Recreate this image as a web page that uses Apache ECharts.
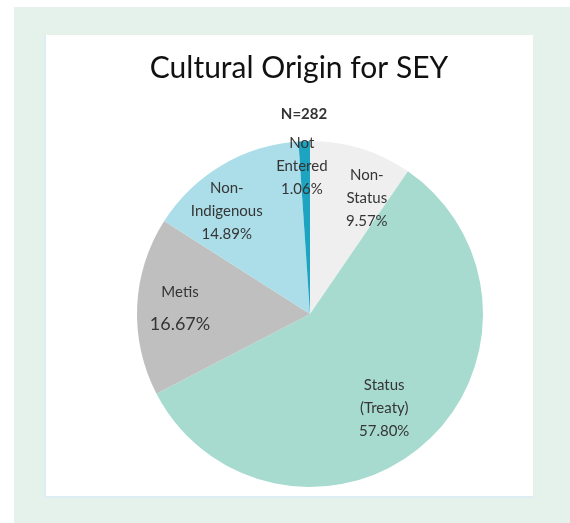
<!DOCTYPE html>
<html lang="en">
<head>
    <meta charset="UTF-8">
    <title>Cultural Origin for SEY</title>
    <script src="https://cdn.jsdelivr.net/npm/echarts@6/dist/echarts.min.js"></script>
    <style>
        html, body { margin: 0; padding: 0; background: #fff; }
        .outer { position: absolute; left: 14px; top: 7px; width: 556px; height: 516px; background: #e5f2ec; }
        .panel { position: absolute; left: 44px; top: 35px; width: 489px; height: 463px; background: #fff;
                 border-left: 2px solid #dcedf3; border-bottom: 2px solid #dcedf3; box-sizing: border-box; }
        #chart { position: absolute; left: 0; top: 0; width: 570px; height: 523px; }
    </style>
</head>
<body>
    <div class="outer"></div>
    <div class="panel"></div>
    <div id="chart"></div>
    <script>
        // data (N = 282)
        var categories = ['Non-Status', 'Status (Treaty)', 'Metis', 'Non-Indigenous', 'Not Entered'];
        var labelNames = ['Non-\nStatus', 'Status\n(Treaty)', 'Metis', 'Non-\nIndigenous', 'Not\nEntered'];
        var counts = [27, 163, 47, 42, 3];
        var colors = ['#efefef', '#a8dbd0', '#bfbfbf', '#acdee9', '#1ca4c0'];

        var total = counts.reduce(function(a, b) { return a + b; }, 0);
        var pieR = 173;
        var center = [310, 314];
        // small nudges so the labels sit where Excel put them
        var nudge = [[20, 3], [-8, 1], [-6, 0], [-20, 4], [-4, -24]];

        var pieData = categories.map(function(name, i) {
            return { name: name, value: counts[i], itemStyle: { color: colors[i] } };
        });
        var labelData = categories.map(function(name, i) {
            var pct = (counts[i] / total * 100).toFixed(2) + '%';
            var text = i == 2 ? '{m|' + labelNames[i] + '}\n{mp|' + pct + '}' : labelNames[i] + '\n' + pct;
            return { name: name, value: counts[i], label: { formatter: text } };
        });

        var myChart = echarts.init(document.getElementById('chart'));
        var option = {
            animation: false,
            title: [{
                text: 'Cultural Origin for SEY',
                left: 294,
                top: 48,
                textAlign: 'center',
                textStyle: { fontFamily: 'Lato', fontSize: 30, fontWeight: 'normal', color: '#111' }
            }, {
                text: 'N=282',
                left: 299,
                top: 102,
                textAlign: 'center',
                textStyle: { fontFamily: 'Lato', fontSize: 15, fontWeight: 'bold', color: '#333' }
            }],
            series: [{
                name: 'origin',
                type: 'pie',
                radius: [0, pieR],
                center: center,
                startAngle: 90,
                silent: true,
                label: { show: false },
                labelLine: { show: false },
                data: pieData
            }, {
                // transparent copy, only used to place labels at ~0.7 of the radius
                name: 'labels',
                type: 'pie',
                radius: [0, pieR * 1.4],
                center: center,
                startAngle: 90,
                silent: true,
                itemStyle: { color: 'rgba(0,0,0,0)' },
                label: {
                    show: true,
                    position: 'inside',
                    fontFamily: 'Lato',
                    fontSize: 15,
                    lineHeight: 23,
                    color: '#353535',
                    rich: {
                        m: { fontFamily: 'Lato', fontSize: 15, lineHeight: 32, color: '#353535' },
                        mp: { fontFamily: 'Lato', fontSize: 18, lineHeight: 32, color: '#353535' }
                    }
                },
                labelLine: { show: false },
                labelLayout: function(params) {
                    var n = nudge[params.dataIndex];
                    return { dx: n[0], dy: n[1] };
                },
                data: labelData
            }]
        };
        myChart.setOption(option);
    </script>
</body>
</html>
